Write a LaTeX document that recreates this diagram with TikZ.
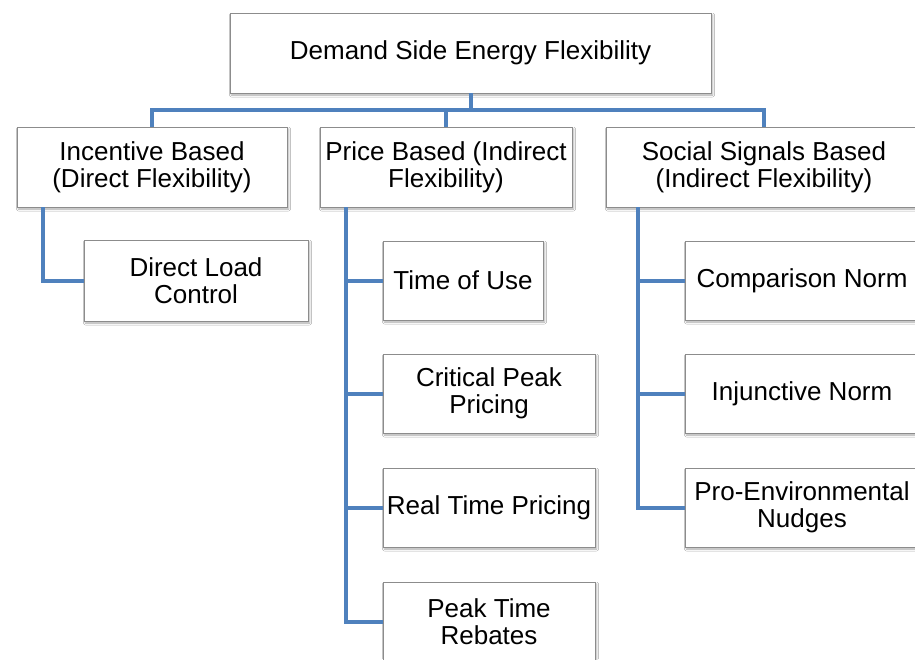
\documentclass[tikz,border=0pt]{standalone}
\usepackage{fontspec}
\setmainfont{Liberation Sans}
\usetikzlibrary{shadows.blur}
\definecolor{connblue}{HTML}{4F81BD}
\definecolor{boxgray}{HTML}{8C8C8C}
\tikzset{
  box/.style={draw=boxgray, line width=0.9pt, fill=white, rectangle,
    inner sep=0pt, align=center,
    font=\fontsize{26}{27}\selectfont,
    blur shadow={shadow xshift=1.5pt, shadow yshift=-2pt, shadow blur steps=4, shadow opacity=35, shadow blur radius=2pt}},
  conn/.style={draw=connblue, line width=4pt, line join=miter, line cap=butt}
}
\begin{document}
\begin{tikzpicture}[x=1pt,y=-1pt]
\useasboundingbox (0,0) rectangle (915,659);
\clip (0,0) rectangle (915,659);
\fill[white] (0,0) rectangle (915,659);

% nodes
\node[box, minimum width=481pt, minimum height=80pt] (top) at (470.5,53) {Demand Side Energy Flexibility};
\node[box, minimum width=270pt, minimum height=80pt] (inc) at (152,167) {Incentive Based\\(Direct Flexibility)};
\node[box, minimum width=252pt, minimum height=80pt] (price) at (446,167) {Price Based (Indirect\\Flexibility)};
\node[box, minimum width=316pt, minimum height=80pt] (soc) at (764,167) {Social Signals Based\\(Indirect Flexibility)};

\node[box, minimum width=224pt, minimum height=81pt] (dlc) at (196,280.5) {Direct Load\\Control};

\node[box, minimum width=160pt, minimum height=79pt] (tou) at (463,280.5) {Time of Use};
\node[box, minimum width=212pt, minimum height=79pt] (cpp) at (489,393.5) {Critical Peak\\Pricing};
\node[box, minimum width=212pt, minimum height=79pt] (rtp) at (489,507.5) {Real Time Pricing};
\node[box, minimum width=212pt, minimum height=79pt] (ptr) at (489,621.5) {Peak Time\\Rebates};

\node[box, minimum width=234pt, minimum height=79pt] (cmp) at (802,280.5) {Comparison Norm};
\node[box, minimum width=234pt, minimum height=79pt] (inj) at (802,393.5) {Injunctive Norm};
\node[box, minimum width=234pt, minimum height=79pt] (pen) at (802,507.5) {Pro-Environmental\\Nudges};

% connectors
\coordinate (bus) at (470.5,110);
\draw[conn] (top.south) -- (bus);
\draw[conn] (bus) -| (inc.north);
\draw[conn] (bus) -| (price.north);
\draw[conn] (bus) -| (soc.north);

\draw[conn] ([xshift=26pt]inc.south west) |- (dlc.west);

\draw[conn] ([xshift=26pt]price.south west) |- (ptr.west);
\draw[conn] ([xshift=26pt]price.south west) |- (tou.west);
\draw[conn] ([xshift=26pt]price.south west) |- (cpp.west);
\draw[conn] ([xshift=26pt]price.south west) |- (rtp.west);

\draw[conn] ([xshift=32pt]soc.south west) |- (pen.west);
\draw[conn] ([xshift=32pt]soc.south west) |- (cmp.west);
\draw[conn] ([xshift=32pt]soc.south west) |- (inj.west);
\end{tikzpicture}
\end{document}
